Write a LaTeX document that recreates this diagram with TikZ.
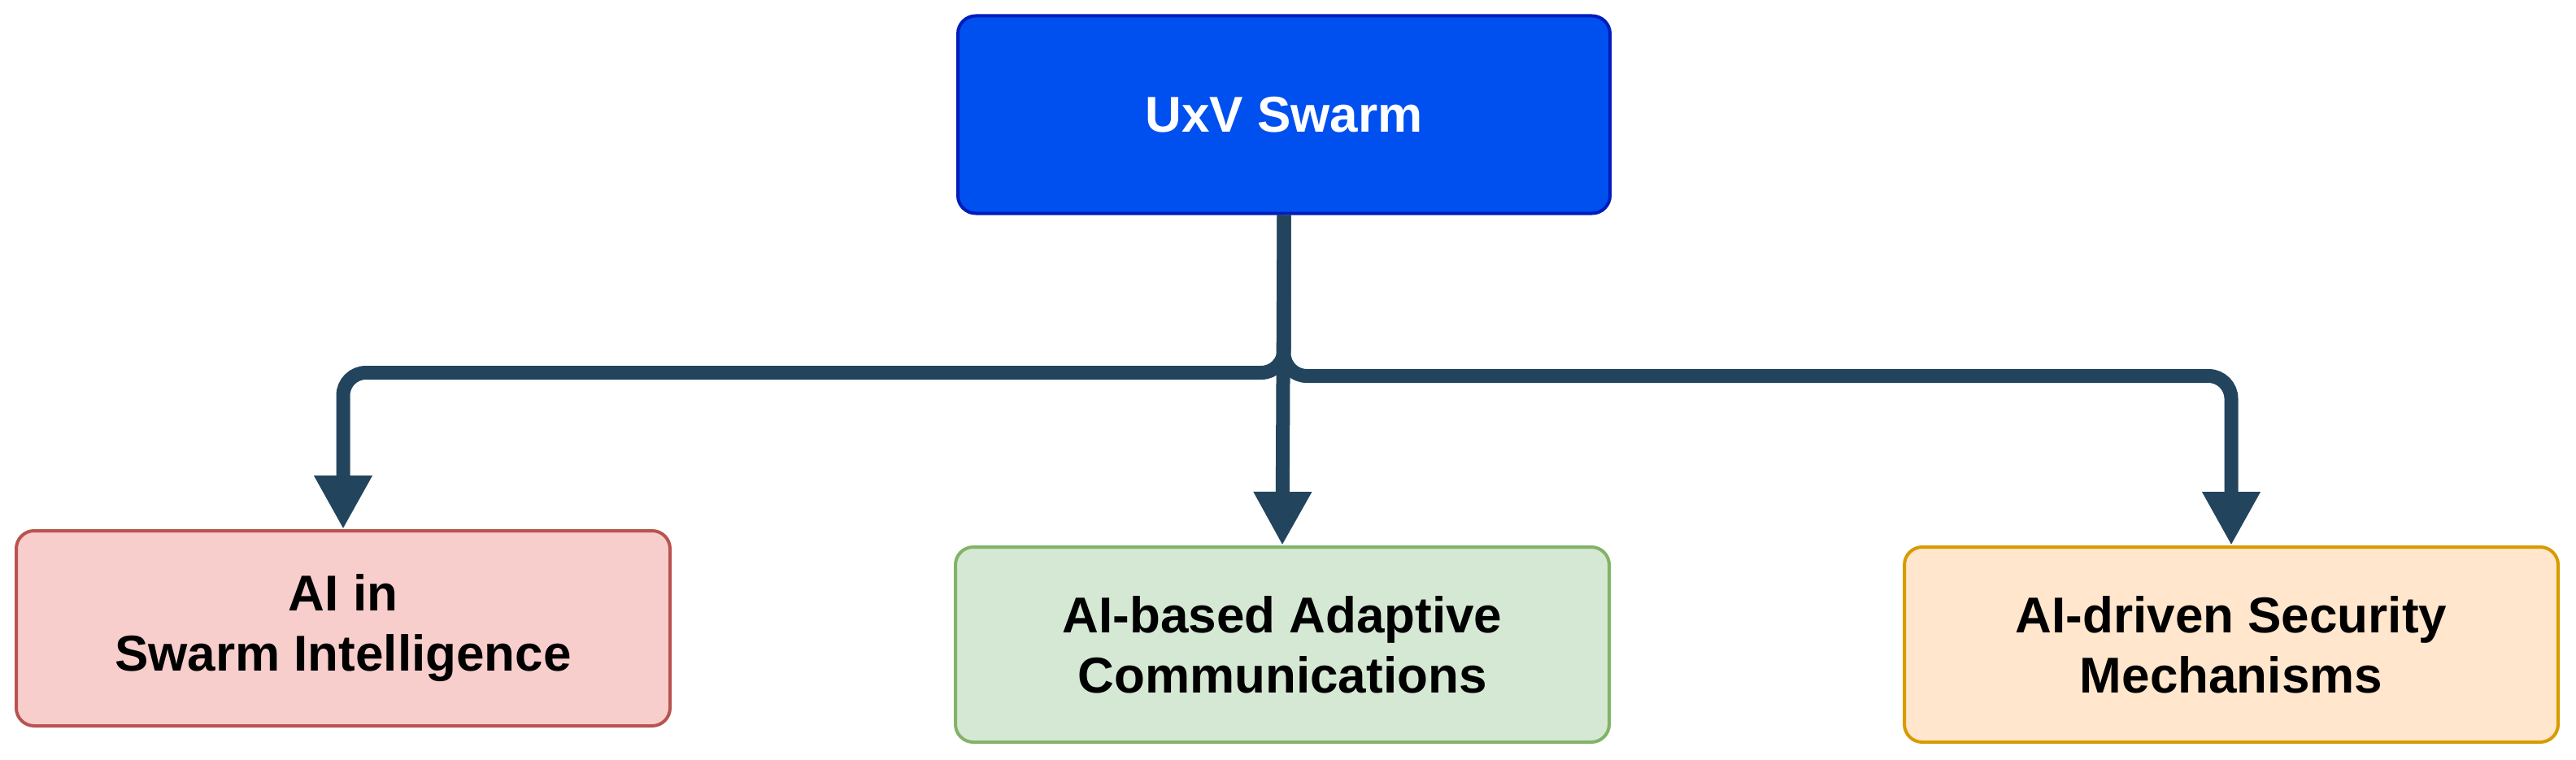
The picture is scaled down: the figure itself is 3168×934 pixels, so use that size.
\documentclass[tikz,border=0pt]{standalone}
\usepackage{fontspec}
\setmainfont{Liberation Sans}
\usetikzlibrary{arrows.meta}
\definecolor{lc}{HTML}{23445D}
\tikzset{
 box/.style={draw, line width=4pt, rounded corners=22pt, minimum width=#1, font=\fontsize{62}{74}\selectfont\bfseries, align=center, inner sep=0pt},
 box/.default=804pt,
 conn/.style={draw=lc, line width=17pt, rounded corners=28pt, -{Triangle[width=67pt,length=66pt]}}
}
\begin{document}
\begin{tikzpicture}[x=1pt,y=-1pt]
\useasboundingbox (0,0) rectangle (3168,934);
\node[box=802pt, minimum height=243pt, fill={rgb,255:red,0;green,80;blue,239}, draw={rgb,255:red,0;green,29;blue,188}, text=white] (top) at (1579,141) {UxV Swarm};
\node[box, minimum height=240pt, fill={rgb,255:red,248;green,206;blue,204}, draw={rgb,255:red,184;green,84;blue,80}] (l) at (422,773) {AI in\\Swarm Intelligence};
\node[box, minimum height=240pt, fill={rgb,255:red,213;green,232;blue,212}, draw={rgb,255:red,130;green,179;blue,102}] (m) at (1577,793) {AI-based Adaptive\\Communications};
\node[box, minimum height=240pt, fill={rgb,255:red,255;green,230;blue,204}, draw={rgb,255:red,215;green,155;blue,0}] (r) at (2744,793) {AI-driven Security\\Mechanisms};
\draw[conn] (top.south) -- ++(0,194) -| (l.north);
\draw[conn] (top.south) -- ++(0,198) -| (r.north);
\draw[conn] (top.south) -- (m.north);
\end{tikzpicture}
\end{document}
